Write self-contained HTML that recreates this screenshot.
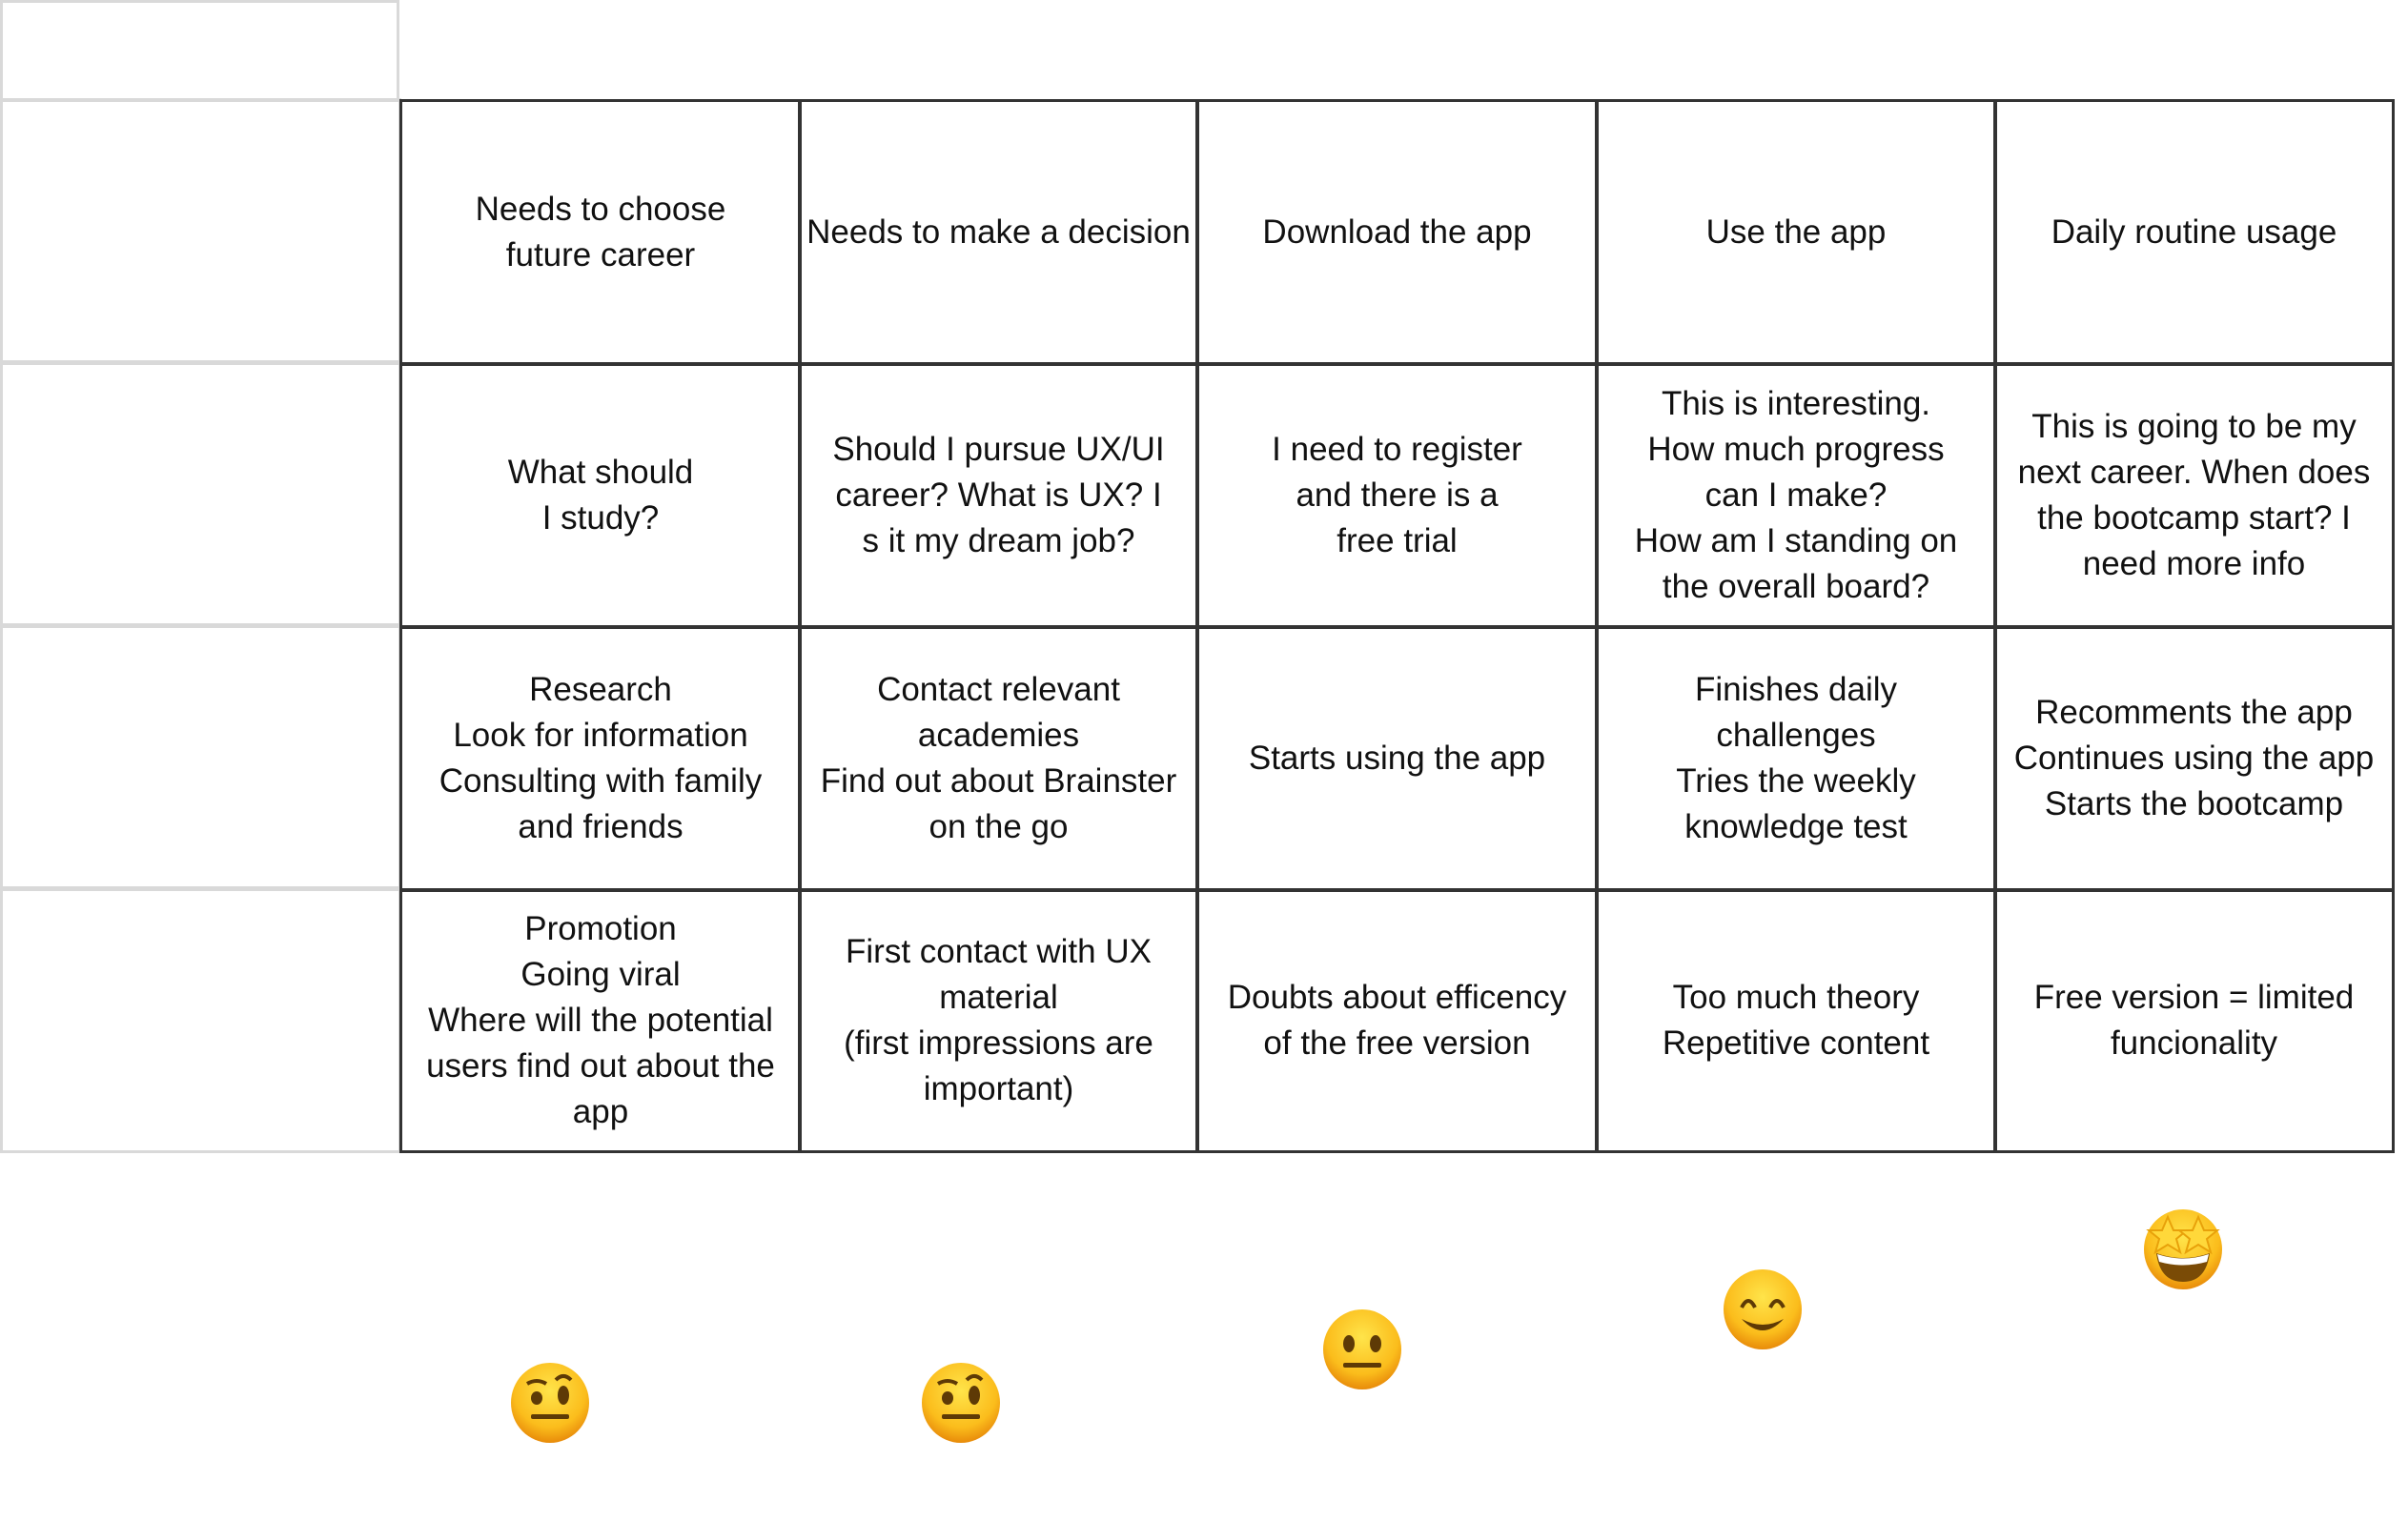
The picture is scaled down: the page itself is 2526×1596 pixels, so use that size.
<!DOCTYPE html>
<html><head><meta charset="utf-8"><style>
body{margin:0;width:2526px;height:1596px;background:#fff;position:relative;overflow:hidden;font-family:"Liberation Sans",sans-serif;}
.g{position:absolute;border:3px solid #d9d9d9;box-sizing:border-box;}
.c{position:absolute;border:3.5px solid #333;box-sizing:border-box;display:flex;align-items:center;justify-content:center;text-align:center;font-size:35px;line-height:48px;color:#111;padding:0 2px;white-space:nowrap;letter-spacing:0px;}
.e{position:absolute;}
</style></head><body>
<div class="g" style="left:0;top:0;width:419px;height:107px"></div>
<div class="g" style="left:0;top:103px;width:421px;height:280px"></div>
<div class="g" style="left:0;top:378px;width:421px;height:281px"></div>
<div class="g" style="left:0;top:654px;width:421px;height:281px"></div>
<div class="g" style="left:0;top:930px;width:421px;height:280px"></div>

<div class="c" style="left:419px;top:104px;width:422px;height:280px">Needs to choose<br>future career</div>
<div class="c" style="left:837px;top:104px;width:421px;height:280px;padding:0">Needs to make a decision</div>
<div class="c" style="left:1254px;top:104px;width:423px;height:280px">Download the app</div>
<div class="c" style="left:1673px;top:104px;width:422px;height:280px">Use the app</div>
<div class="c" style="left:2091px;top:104px;width:421px;height:280px">Daily routine usage</div>

<div class="c" style="left:419px;top:380px;width:422px;height:280px">What should<br>I study?</div>
<div class="c" style="left:837px;top:380px;width:421px;height:280px">Should I pursue UX/UI<br>career? What is UX? I<br>s it my dream job?</div>
<div class="c" style="left:1254px;top:380px;width:423px;height:280px">I need to register<br>and there is a<br>free trial</div>
<div class="c" style="left:1673px;top:380px;width:422px;height:280px">This is interesting.<br>How much progress<br>can I make?<br>How am I standing on<br>the overall board?</div>
<div class="c" style="left:2091px;top:380px;width:421px;height:280px">This is going to be my<br>next career. When does<br>the bootcamp start? I<br>need more info</div>

<div class="c" style="left:419px;top:656px;width:422px;height:280px">Research<br>Look for information<br>Consulting with family<br>and friends</div>
<div class="c" style="left:837px;top:656px;width:421px;height:280px">Contact relevant<br>academies<br>Find out about Brainster<br>on the go</div>
<div class="c" style="left:1254px;top:656px;width:423px;height:280px">Starts using the app</div>
<div class="c" style="left:1673px;top:656px;width:422px;height:280px">Finishes daily<br>challenges<br>Tries the weekly<br>knowledge test</div>
<div class="c" style="left:2091px;top:656px;width:421px;height:280px">Recomments the app<br>Continues using the app<br>Starts the bootcamp</div>

<div class="c" style="left:419px;top:932px;width:422px;height:278px">Promotion<br>Going viral<br>Where will the potential<br>users find out about the<br>app</div>
<div class="c" style="left:837px;top:932px;width:421px;height:278px">First contact with UX<br>material<br>(first impressions are<br>important)</div>
<div class="c" style="left:1254px;top:932px;width:423px;height:278px">Doubts about efficency<br>of the free version</div>
<div class="c" style="left:1673px;top:932px;width:422px;height:278px">Too much theory<br>Repetitive content</div>
<div class="c" style="left:2091px;top:932px;width:421px;height:278px">Free version = limited<br>funcionality</div>

<svg class="e" style="left:0;top:0" width="2526" height="1596">
<defs><radialGradient id="y" cx="50%" cy="35%" r="65%"><stop offset="0" stop-color="#ffe44a"/><stop offset="0.7" stop-color="#fbbd1c"/><stop offset="1" stop-color="#e88b0a"/></radialGradient></defs>
<g transform="translate(577,1472)">
<ellipse rx="41" ry="42" fill="url(#y)"/><ellipse cx="-14" cy="-5" rx="6" ry="7" fill="#5e3a06"/><ellipse cx="14" cy="-8" rx="6" ry="10" fill="#5e3a06"/><rect x="-20" y="12" width="40" height="5" rx="2" fill="#5e3a06"/><path d="M-24,-20 q10,-6 20,0 M6,-24 q8,-8 16,0" stroke="#5e3a06" stroke-width="4" fill="none"/></g>
<g transform="translate(1008,1472)">
<ellipse rx="41" ry="42" fill="url(#y)"/><ellipse cx="-14" cy="-5" rx="6" ry="7" fill="#5e3a06"/><ellipse cx="14" cy="-8" rx="6" ry="10" fill="#5e3a06"/><rect x="-20" y="12" width="40" height="5" rx="2" fill="#5e3a06"/><path d="M-24,-20 q10,-6 20,0 M6,-24 q8,-8 16,0" stroke="#5e3a06" stroke-width="4" fill="none"/></g>
<g transform="translate(1429,1416)">
<ellipse rx="41" ry="42" fill="url(#y)"/><ellipse cx="-14" cy="-6" rx="6" ry="9" fill="#5e3a06"/><ellipse cx="14" cy="-6" rx="6" ry="9" fill="#5e3a06"/><rect x="-20" y="14" width="40" height="5" rx="2" fill="#5e3a06"/></g>
<g transform="translate(1849,1374)">
<ellipse rx="41" ry="42" fill="url(#y)"/><path d="M-22,-2 q7,-14 14,0 M8,-2 q7,-14 14,0" stroke="#5e3a06" stroke-width="4" fill="none"/><path d="M-22,10 q22,24 44,0 q-22,12 -44,0z" fill="#5e3a06"/></g>
<g transform="translate(2290,1311)">
<ellipse rx="41" ry="42" fill="url(#y)"/><path d="M-28,4 q28,10 56,0 q-4,30 -28,30 q-24,0 -28,-30z" fill="#7a4b06"/><path d="M-27,5 q27,9 54,0 l-2,8 q-25,7 -50,0z" fill="#fff"/>
<polygon points="-16,-34 -10,-20 4,-20 -7,-11 -3,3 -16,-5 -29,3 -25,-11 -36,-20 -22,-20" fill="#ffd83a" stroke="#e8a10a" stroke-width="2"/>
<polygon points="16,-34 22,-20 36,-20 25,-11 29,3 16,-5 3,3 7,-11 -4,-20 10,-20" fill="#ffd83a" stroke="#e8a10a" stroke-width="2"/></g>
</svg>
</body></html>
